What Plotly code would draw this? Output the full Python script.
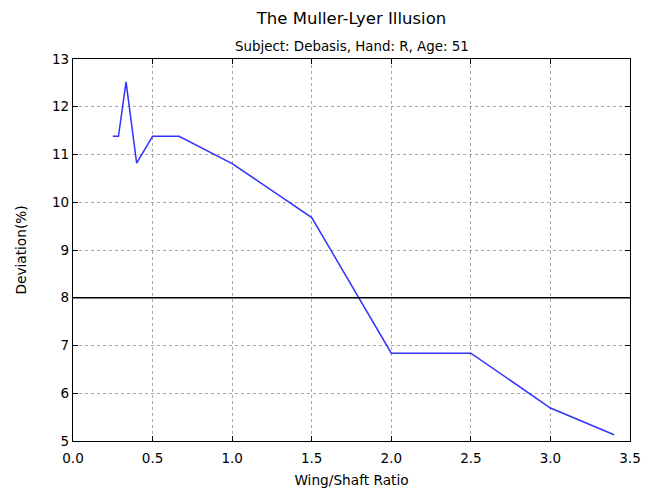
import plotly.graph_objects as go

ratio = [0.25, 0.2857, 0.3333, 0.4, 0.5, 0.6667, 1.0, 1.5, 2.0, 2.5, 3.0, 3.4]
deviation = [11.38, 11.38, 12.52, 10.82, 11.38, 11.38, 10.81, 9.68, 6.84, 6.84, 5.69, 5.13]
x_ticks = [0.0, 0.5, 1.0, 1.5, 2.0, 2.5, 3.0, 3.5]
y_ticks = [5, 6, 7, 8, 9, 10, 11, 12, 13]
reference_level = 8

font = "DejaVu Sans"
fig = go.Figure()
fig.add_trace(go.Scatter(x=ratio, y=deviation, mode="lines",
                         line=dict(color="#0000ff", width=1.5), opacity=0.8,
                         showlegend=False))
fig.add_trace(go.Scatter(x=[x_ticks[0], x_ticks[-1]], y=[reference_level, reference_level],
                         mode="lines", line=dict(color="black", width=1.3),
                         showlegend=False))

axis_common = dict(showline=True, linecolor="black", linewidth=1.3, mirror="ticks",
                   ticks="inside", ticklen=5, tickcolor="black", automargin=False,
                   showgrid=True, gridcolor="#a8a8a8", griddash="3px,3px", gridwidth=1,
                   zeroline=False, tickfont=dict(family=font, size=13.5, color="black"))

fig.update_layout(
    width=657, height=493,
    margin=dict(l=73, r=27, t=59, b=52),
    paper_bgcolor="white", plot_bgcolor="white",
    title=dict(text="The Muller-Lyer Illusion", x=0.5, xref="paper", y=0.963, yref="container",
               xanchor="center", yanchor="middle",
               font=dict(family=font, size=16.5, color="black")),
    xaxis=dict(range=[0, 3.5], tickvals=x_ticks, ticktext=[f"{v:.1f}" for v in x_ticks],
               ticklabelstandoff=5,
               title=dict(text="Wing/Shaft Ratio", font=dict(family=font, size=13.7, color="black"),
                          standoff=10),
               **axis_common),
    yaxis=dict(range=[5, 13], tickvals=y_ticks, ticktext=[str(v) for v in y_ticks],
               title=dict(text="Deviation(%)", font=dict(family=font, size=13.7, color="black"),
                          standoff=22),
               **axis_common),
    annotations=[dict(text="Subject: Debasis, Hand: R, Age: 51", x=0.5, xref="paper",
                      y=1.0, yref="paper", yanchor="bottom", yshift=3, showarrow=False,
                      font=dict(family=font, size=13.4, color="black"))],
)
fig.write_html("out.html")
